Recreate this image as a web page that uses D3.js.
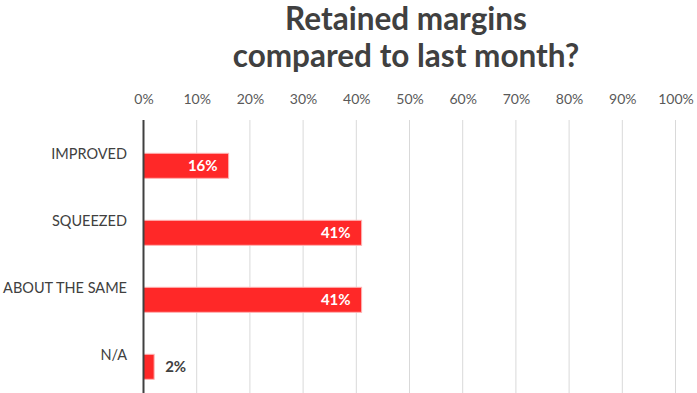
<!DOCTYPE html>
<html>
<head>
<meta charset="utf-8">
<script src="https://cdn.jsdelivr.net/npm/d3@7"></script>
<style>
  body { margin: 0; background: #fff; }
  svg { display: block; font-family: Lato, "Open Sans", sans-serif; }
</style>
</head>
<body>
<div id="chart"></div>
<script>
var categories = ['IMPROVED', 'SQUEEZED', 'ABOUT THE SAME', 'N/A']
var values = [16, 41, 41, 2]
var tickValues = [0, 10, 20, 30, 40, 50, 60, 70, 80, 90, 100]
var titleLines = ['Retained margins', 'compared to last month?']

var width = 697, height = 393

var svg = d3.select('#chart').append('svg')
    .attr('width', width)
    .attr('height', height)

var x = d3.scaleLinear().domain([0, 100]).range([143.5, 675.5])
var y = d3.scaleBand()
    .domain(categories)
    .range([111.3, 421.3])
    .padding(0.627)

// title
svg.append('text')
    .attr('x', 406)
    .attr('y', 30)
    .attr('text-anchor', 'middle')
    .attr('fill', '#404040')
    .attr('font-size', '31.5px')
    .attr('font-weight', 'bold')
    .selectAll('tspan')
    .data(titleLines)
    .enter()
    .append('tspan')
    .attr('x', 406)
    .attr('dy', function (d, i) { return i ? 37 : 0 })
    .text(function (d) { return d })

// gridlines
svg.append('g')
    .selectAll('line')
    .data(tickValues.slice(1))
    .enter()
    .append('line')
    .attr('x1', function (d) { return x(d) })
    .attr('x2', function (d) { return x(d) })
    .attr('y1', 120)
    .attr('y2', height)
    .attr('stroke', '#d9d9d9')
    .attr('stroke-width', 1)

// top tick labels
var xAxis = d3.axisTop(x)
    .tickValues(tickValues)
    .tickSize(0)
    .tickPadding(0)
    .tickFormat(function (d) { return d + '%' })

var ax = svg.append('g')
    .attr('transform', 'translate(0,104)')
    .call(xAxis)
ax.select('.domain').remove()
ax.selectAll('text')
    .attr('font-family', 'Lato, "Open Sans", sans-serif')
    .attr('font-size', '14px')
    .attr('fill', '#595959')
    .attr('dy', 0)

// bars
var bar = svg.selectAll('.bar')
    .data(categories)
    .enter()
    .append('g')
    .attr('class', 'bar')

bar.append('rect')
    .attr('x', x(0))
    .attr('y', function (d) { return y(d) })
    .attr('width', function (d, i) { return x(values[i]) - x(0) })
    .attr('height', y.bandwidth())
    .attr('fill', '#ff2828')
    .attr('stroke', '#ffb3b3')
    .attr('stroke-width', 1)

// value labels
bar.append('text')
    .attr('x', function (d, i) {
        return values[i] < 10 ? x(values[i]) + 11 : x(values[i]) - 11
    })
    .attr('y', function (d) { return y(d) + y.bandwidth() / 2 })
    .attr('dy', '0.36em')
    .attr('text-anchor', function (d, i) { return values[i] < 10 ? 'start' : 'end' })
    .attr('fill', function (d, i) { return values[i] < 10 ? '#404040' : '#fff' })
    .attr('font-size', '15px')
    .attr('font-weight', 'bold')
    .text(function (d, i) { return values[i] + '%' })

// category labels
svg.append('g')
    .selectAll('text')
    .data(categories)
    .enter()
    .append('text')
    .attr('x', 127)
    .attr('y', function (d) { return y(d) + 6 })
    .attr('text-anchor', 'end')
    .attr('fill', '#404040')
    .attr('font-size', '14.5px')
    .text(function (d) { return d })

// value axis line
svg.append('line')
    .attr('x1', x(0))
    .attr('x2', x(0))
    .attr('y1', 120)
    .attr('y2', height)
    .attr('stroke', '#404040')
    .attr('stroke-width', 2)
</script>
</body>
</html>
